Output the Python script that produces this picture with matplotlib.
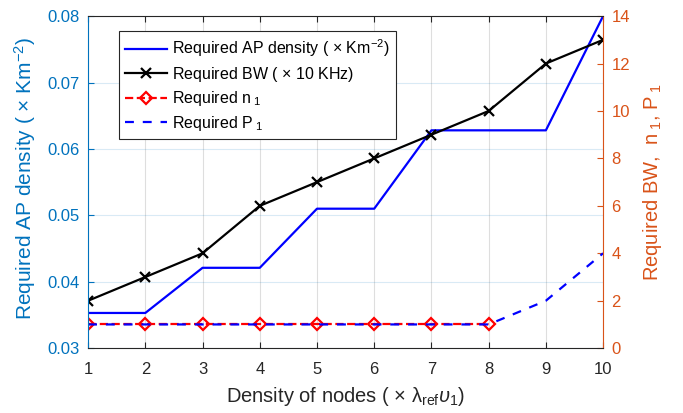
import numpy as np
import matplotlib
matplotlib.use('Agg')
from matplotlib import pyplot as plt

# data
nodes = [1, 2, 3, 4, 5, 6, 7, 8, 9, 10]
ap_density = [0.0353, 0.0353, 0.0421, 0.0421, 0.0510, 0.0510, 0.0628, 0.0628, 0.0628, 0.0800]
bw = [2, 3, 4, 6, 7, 8, 9, 10, 12, 13]
n1_x = [1, 2, 3, 4, 5, 6, 7, 8]
n1 = [1, 1, 1, 1, 1, 1, 1, 1]
p1 = [1, 1, 1, 1, 1, 1, 1, 1, 2, 4]

plt.rcParams['font.family'] = ['Liberation Sans', 'DejaVu Sans']
plt.rcParams['mathtext.fontset'] = 'custom'
plt.rcParams['mathtext.rm'] = 'Liberation Sans'
plt.rcParams['mathtext.it'] = 'Liberation Sans:italic'
plt.rcParams['mathtext.sf'] = 'Liberation Sans'

left_c = '#0072BD'
right_c = '#D95319'
dark = '#262626'

fig = plt.figure(figsize=(6.83, 4.13), dpi=100, facecolor='w')
ax = fig.add_axes([0.129, 0.157, 0.754, 0.804])
ax2 = ax.twinx()

l1, = ax.plot(nodes, ap_density, color='#0000FF', lw=1.6, label=r'Required AP density ( $\times$ Km$^{-2}$)')
l2, = ax2.plot(nodes, bw, color='k', lw=1.6, marker='x', ms=7, mew=1.6, label=r'Required BW ( $\times$ 10 KHz)')
l3, = ax2.plot(n1_x, n1, color='r', ls='--', lw=1.6, marker='D', ms=6.5, mfc='none', mew=1.6,
               label=r'Required n$_{\ 1}$')
l4, = ax2.plot(nodes, p1, color='#0000FF', ls=(0, (4, 4)), lw=1.6, label=r'Required P$_{\ 1}$')

ax.set_xlim(1, 10)
ax.set_ylim(0.03, 0.08)
ax2.set_ylim(0, 14)
ax.set_xticks(nodes)
ax.set_yticks([0.03, 0.04, 0.05, 0.06, 0.07, 0.08])
ax2.set_yticks([0, 2, 4, 6, 8, 10, 12, 14])

# grid like matlab
ax.xaxis.grid(True, color=dark, alpha=0.15, lw=0.8)
ax.yaxis.grid(True, color=left_c, alpha=0.15, lw=0.8)

ax.tick_params(axis='x', direction='in', top=True, colors=dark, labelsize=12, length=4, pad=10)
ax.tick_params(axis='y', direction='in', colors=left_c, labelsize=12, length=4, pad=6)
ax2.tick_params(axis='y', direction='in', colors=right_c, labelsize=12, length=4, pad=6)

for s in ['top', 'bottom']:
    ax2.spines[s].set_color(dark)
ax2.spines['left'].set_color(left_c)
ax2.spines['right'].set_color(right_c)
for sp in ax.spines.values():
    sp.set_visible(False)

ax.set_ylabel(r'Required AP density ( $\times$ Km$^{-2}$)', color=left_c, fontsize=15, labelpad=3)
ax.yaxis.set_label_coords(-0.098, 0.512)
ax2.set_ylabel(r'Required BW,  n$_{\ 1}$, P$_{\ 1}$', color=right_c, fontsize=14.5, labelpad=8)
ax.set_xlabel('Density of nodes ( \u00d7 \u03bb$_{\\rm ref}$$\\upsilon_1$)', color=dark, fontsize=14.5, labelpad=6)

leg = ax2.legend(handles=[l1, l2, l3, l4], loc='upper left', bbox_to_anchor=(0.06, 0.955),
                 fontsize=11.5, frameon=True, fancybox=False, edgecolor=dark, framealpha=1,
                 handlelength=2.6, borderaxespad=0, labelspacing=0.35, handletextpad=0.3,
                 borderpad=0.4)
leg.get_frame().set_linewidth(0.8)

fig.savefig('out.png', dpi=100)
plt.close()
